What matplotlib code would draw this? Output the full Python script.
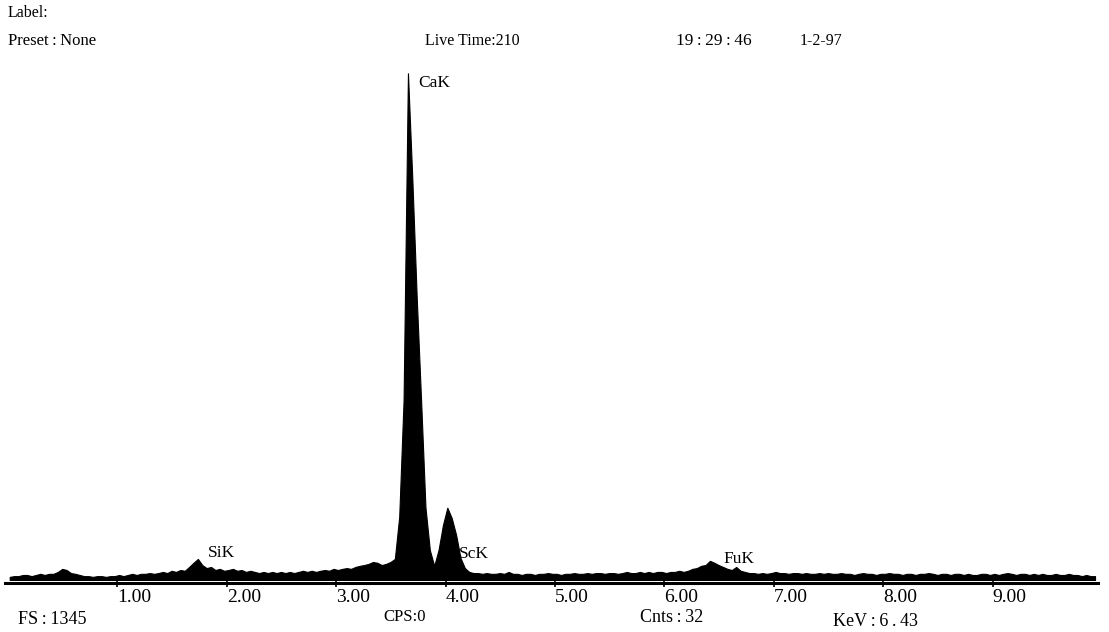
import numpy as np
import matplotlib
matplotlib.use("Agg")
import matplotlib.pyplot as plt

plt.rcParams['font.family'] = ['Liberation Serif', 'DejaVu Serif']

# EDS spectrum: counts per 40 eV channel, first channel at 0.016 keV
zero_kev = 0.016
kev_per_ch = 0.04
counts = [
    8, 10, 10, 13, 13, 10, 13, 16, 13, 16,          # 0-9
    16, 21, 29, 26, 18, 16, 13, 10, 10, 8,          # 10-19
    10, 10, 8, 10, 10, 13, 10, 13, 16, 13,          # 20-29
    16, 16, 18, 16, 18, 21, 18, 24, 21, 26,         # 30-39
    24, 34, 45, 55, 39, 31, 34, 26, 29, 24,         # 40-49
    26, 29, 24, 26, 21, 24, 21, 18, 21, 18,         # 50-59
    21, 18, 21, 18, 21, 18, 21, 24, 21, 24,         # 60-69
    21, 24, 26, 24, 29, 26, 29, 31, 29, 34,         # 70-79
    37, 39, 42, 47, 45, 39, 42, 47, 55, 165,        # 80-89
    470, 1326, 1048, 740, 470, 190, 78, 37, 79, 144,  # 90-99
    189, 162, 118, 58, 31, 21, 18, 18, 16, 18,      # 100-109
    16, 16, 18, 16, 21, 16, 16, 13, 16, 16,         # 110-119
    13, 16, 16, 18, 16, 16, 13, 16, 16, 18,         # 120-129
    16, 16, 18, 16, 18, 18, 16, 18, 18, 16,         # 130-139
    18, 21, 18, 18, 21, 18, 21, 18, 21, 21,         # 140-149
    18, 21, 21, 24, 21, 24, 29, 31, 37, 39,         # 150-159
    50, 45, 39, 34, 29, 26, 34, 24, 21, 18,         # 160-169
    18, 16, 18, 16, 18, 21, 18, 18, 16, 18,         # 170-179
    18, 16, 18, 16, 16, 18, 16, 18, 16, 16,         # 180-189
    18, 16, 16, 13, 16, 18, 16, 16, 13, 16,         # 190-199
    16, 18, 16, 16, 13, 16, 16, 13, 16, 16,         # 200-209
    18, 16, 13, 16, 16, 13, 16, 16, 13, 16,         # 210-219
    13, 13, 16, 16, 13, 16, 13, 16, 18, 16,         # 220-229
    13, 16, 16, 13, 16, 13, 16, 13, 13, 16,         # 230-239
    13, 13, 16, 13, 13, 10, 13, 10, 10,             # 240-248
]
energy = zero_kev + kev_per_ch * np.arange(len(counts))

tick_kev = [1, 2, 3, 4, 5, 6, 7, 8, 9]
tick_labels = ["1.00", "2.00", "3.00", "4.00", "5.00", "6.00", "7.00", "8.00", "9.00"]

peak_names = ["CaK", "SiK", "ScK", "FuK"]
peak_kev = [3.75, 1.83, 4.12, 6.54]
peak_cnt = [1300, 71, 68, 55]

T = "\u2009"  # thin space, the original sets colons loosely
header_texts = ["Label:", f"Preset{T}:{T}None", "Live Time:210",
                f"19{T}:{T}29{T}:{T}46", "1-2-97"]
footer_texts = [f"FS{T}:{T}1345", "CPS:0", f"Cnts{T}:{T}32", f"KeV{T}:{T}6{T}.{T}43"]

W, H = 1109, 632
fig = plt.figure(figsize=(W / 100, H / 100), dpi=100)
ax = fig.add_axes([5 / W, 1 - 583 / H, 1093 / W, 517 / H])

ax.fill_between(energy, 0, counts, color='black', lw=0.8, edgecolor='black')
ax.set_xlim(-0.027, 9.963)
ax.set_ylim(-8, 1345)

for s in ['top', 'left', 'right']:
    ax.spines[s].set_visible(False)
ax.spines['bottom'].set_linewidth(2.2)
ax.set_yticks([])
ax.set_xticks(tick_kev)
ax.set_xticklabels(tick_labels, ha='left', fontsize=14)
ax.tick_params(axis='x', direction='inout', length=6, width=1.2, pad=1)

for name, xk, yc in zip(peak_names, peak_kev, peak_cnt):
    ax.text(xk, yc, name, fontsize=12.5, va='center', ha='left')

# header / footer placed in pixel positions of the original printout
header_pos = [(8, 13), (8, 41), (425, 41), (676, 41), (800, 41)]
header_size = [11.5, 12, 11.5, 12.5, 11.5]
for txt, (px, py), fs in zip(header_texts, header_pos, header_size):
    fig.text(px / W, 1 - py / H, txt, fontsize=fs, va='center', ha='left')

footer_pos = [(18, 619), (383, 617), (640, 617), (833, 622)]
footer_size = [13, 12, 13, 13]
for txt, (px, py), fs in zip(footer_texts, footer_pos, footer_size):
    fig.text(px / W, 1 - py / H, txt, fontsize=fs, va='center', ha='left')

fig.savefig("out.png", dpi=100)
